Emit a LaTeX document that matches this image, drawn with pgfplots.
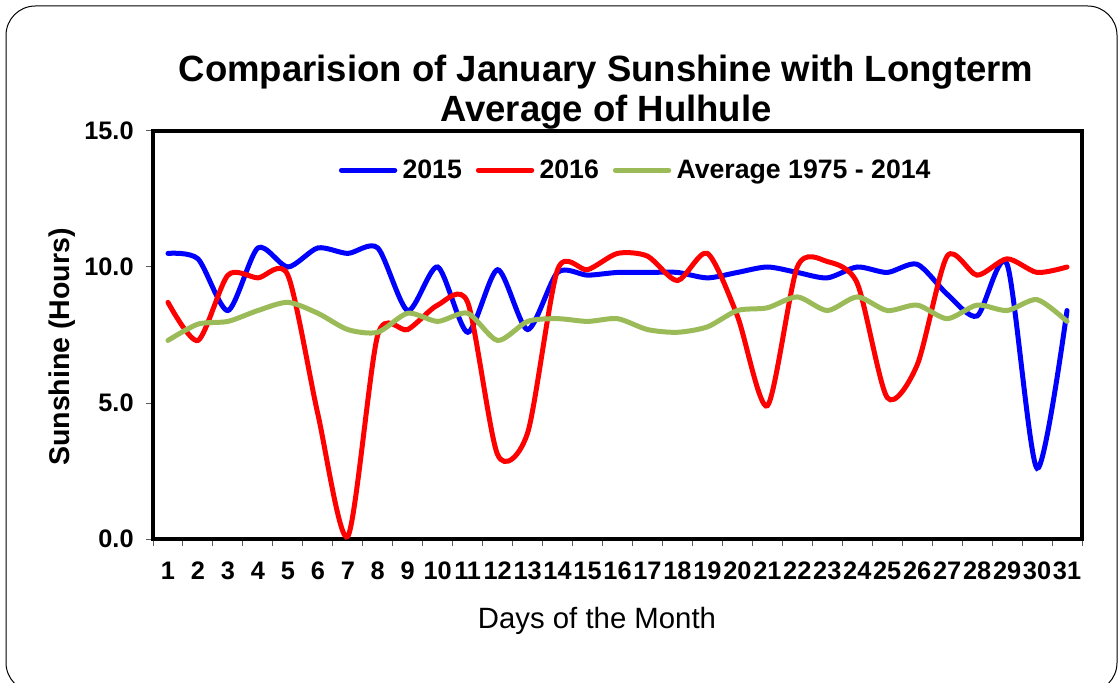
\documentclass[border=0pt]{standalone}
\usepackage{fontspec}
\setmainfont{Liberation Sans}
\usepackage{pgfplots}
\pgfplotsset{compat=1.18}

\definecolor{avggreen}{HTML}{9BBB59}

\begin{document}
\begin{tikzpicture}[x=0.75pt,y=0.75pt]
% page = 1119 x 682 px, 1px = 0.75pt
\clip (0,0) rectangle (1119,682);
\draw[black, line width=0.75pt, rounded corners=22pt] (6,676) rectangle (1117,-10);

\node[font=\bfseries\fontsize{27.4}{30.5}\selectfont, align=center] at (606,590)
  {Comparision of January Sunshine with Longterm\\Average of Hulhule};
\node[font=\fontsize{22}{22}\selectfont] at (597,61) {Days of the Month};
\node[font=\bfseries\fontsize{21.4}{21.4}\selectfont, rotate=90] at (62,335) {Sunshine (Hours)};

\begin{axis}[
  at={(114.75pt,107.25pt)}, anchor=south west,
  scale only axis, width=696.75pt, height=306pt,
  xmin=0.5, xmax=31.5, ymin=0, ymax=15,
  axis line style={line width=3pt},
  xtick={1,...,31},
  minor xtick={0.5,1.5,...,31.5},
  major x tick style={draw=none},
  minor tick length=5pt,
  ytick={0,5,10,15},
  major tick length=5pt,
  tick align=outside,
  tick style={gray!70!black, line width=0.75pt},
  xtick pos=bottom, ytick pos=left,
  minor x tick style={gray!70!black, line width=0.75pt},
  yticklabel style={/pgf/number format/fixed, /pgf/number format/fixed zerofill,
    /pgf/number format/precision=1, xshift=-6pt},
  /pgf/number format/assume math mode=true,
  ticklabel style={font=\bfseries\fontsize{19}{19}\selectfont},
  xticklabel style={inner sep=0pt, yshift=-12pt},
  legend columns=-1,
  legend style={at={(0.52,0.904)}, anchor=center, draw=none, fill=none,
    font=\bfseries\fontsize{20}{20}\selectfont,
    /tikz/every even column/.append style={column sep=8.5pt},
    /tikz/every odd column/.append style={column sep=2pt}},
  legend image code/.code={\draw[#1] (0pt,0pt) -- (40pt,0pt);},
  every axis plot/.append style={line width=3.75pt, smooth, tension=0.45, line cap=round},
]
\addplot[blue] coordinates {
(1,10.5)(2,10.3)(3,8.4)(4,10.7)(5,10.0)(6,10.7)(7,10.5)(8,10.7)(9,8.4)(10,10.0)
(11,7.6)(12,9.9)(13,7.7)(14,9.8)(15,9.7)(16,9.8)(17,9.8)(18,9.8)(19,9.6)(20,9.8)
(21,10.0)(22,9.8)(23,9.6)(24,10.0)(25,9.8)(26,10.1)(27,9.0)(28,8.2)(29,10.1)(30,2.6)(31,8.4)};
\addlegendentry{2015}
\addplot[red] coordinates {
(1,8.7)(2,7.3)(3,9.7)(4,9.6)(5,9.7)(6,4.6)(7,0.1)(8,7.5)(9,7.7)(10,8.6)
(11,8.7)(12,3.1)(13,3.9)(14,9.9)(15,9.9)(16,10.5)(17,10.4)(18,9.5)(19,10.5)(20,8.2)
(21,4.9)(22,10.0)(23,10.2)(24,9.4)(25,5.2)(26,6.4)(27,10.4)(28,9.7)(29,10.3)(30,9.8)(31,10.0)};
\addlegendentry{2016}
\addplot[avggreen] coordinates {
(1,7.3)(2,7.9)(3,8.0)(4,8.4)(5,8.7)(6,8.3)(7,7.7)(8,7.6)(9,8.3)(10,8.0)
(11,8.3)(12,7.3)(13,8.0)(14,8.1)(15,8.0)(16,8.1)(17,7.7)(18,7.6)(19,7.8)(20,8.4)
(21,8.5)(22,8.9)(23,8.4)(24,8.9)(25,8.4)(26,8.6)(27,8.1)(28,8.6)(29,8.4)(30,8.8)(31,8.0)};
\addlegendentry{Average 1975 - 2014}
\end{axis}
\end{tikzpicture}
\end{document}
